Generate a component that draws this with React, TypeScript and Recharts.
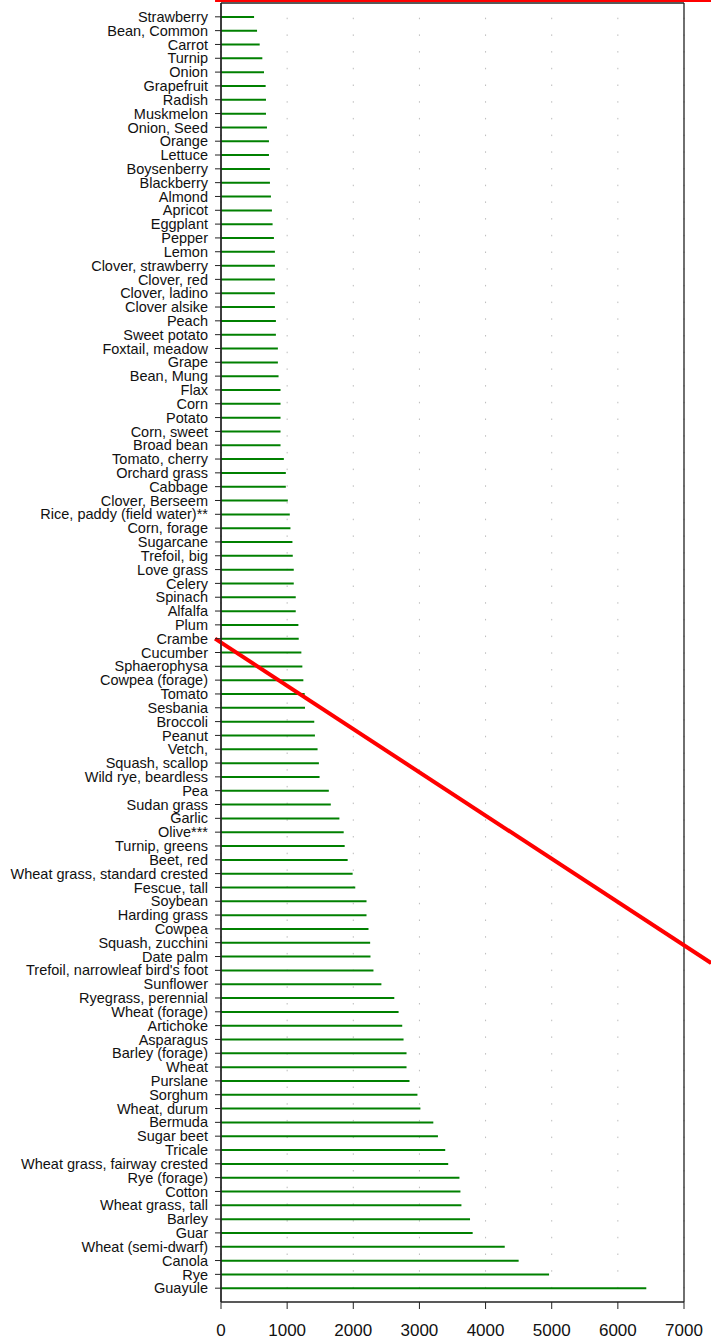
import { Bar, BarChart, CartesianGrid, ReferenceLine, XAxis, YAxis } from 'recharts';

// Salt tolerance threshold per crop, lowest first.
const CROPS = [
  'Strawberry', 'Bean, Common', 'Carrot', 'Turnip', 'Onion', 'Grapefruit', 'Radish', 'Muskmelon',
  'Onion, Seed', 'Orange', 'Lettuce', 'Boysenberry', 'Blackberry', 'Almond', 'Apricot', 'Eggplant',
  'Pepper', 'Lemon', 'Clover, strawberry', 'Clover, red', 'Clover, ladino', 'Clover alsike', 'Peach',
  'Sweet potato', 'Foxtail, meadow', 'Grape', 'Bean, Mung', 'Flax', 'Corn', 'Potato', 'Corn, sweet',
  'Broad bean', 'Tomato, cherry', 'Orchard grass', 'Cabbage', 'Clover, Berseem',
  'Rice, paddy (field water)**', 'Corn, forage', 'Sugarcane', 'Trefoil, big', 'Love grass', 'Celery',
  'Spinach', 'Alfalfa', 'Plum', 'Crambe', 'Cucumber', 'Sphaerophysa', 'Cowpea (forage)', 'Tomato',
  'Sesbania', 'Broccoli', 'Peanut', 'Vetch,', 'Squash, scallop', 'Wild rye, beardless', 'Pea',
  'Sudan grass', 'Garlic', 'Olive***', 'Turnip, greens', 'Beet, red', 'Wheat grass, standard crested',
  'Fescue, tall', 'Soybean', 'Harding grass', 'Cowpea', 'Squash, zucchini', 'Date palm',
  "Trefoil, narrowleaf bird's foot", 'Sunflower', 'Ryegrass, perennial', 'Wheat (forage)', 'Artichoke',
  'Asparagus', 'Barley (forage)', 'Wheat', 'Purslane', 'Sorghum', 'Wheat, durum', 'Bermuda',
  'Sugar beet', 'Tricale', 'Wheat grass, fairway crested', 'Rye (forage)', 'Cotton', 'Wheat grass, tall',
  'Barley', 'Guar', 'Wheat (semi-dwarf)', 'Canola', 'Rye', 'Guayule',
];

const THRESHOLDS = [
  500, 545, 585, 625, 650, 675, 680, 680, 695, 725, 725, 740, 740, 755, 770, 780,
  800, 815, 815, 815, 815, 815, 830, 830, 860, 860, 870, 900, 900, 900, 900, 900,
  950, 980, 980, 1010, 1040, 1050, 1080, 1085, 1100, 1100, 1130, 1130, 1170, 1175,
  1215, 1230, 1245, 1265, 1270, 1410, 1420, 1460, 1480, 1490, 1630, 1660, 1790, 1855,
  1870, 1915, 1990, 2030, 2200, 2200, 2230, 2255, 2260, 2305, 2425, 2620, 2685, 2740,
  2760, 2805, 2805, 2850, 2970, 3015, 3210, 3280, 3390, 3435, 3605, 3620, 3635, 3765,
  3805, 4290, 4500, 4960, 6430,
];

const X_TICKS = [0, 1000, 2000, 3000, 4000, 5000, 6000, 7000];

// hand-drawn red strokes, in (value, row) units; row 0 is the top edge, 94 the bottom edge
const TOP_STROKE = [{ x: -90, y: -0.22 }, { x: 7410, y: -0.22 }];
const DIAGONAL_STROKE = [{ x: -90, y: 46 }, { x: 7410, y: 69.47 }];

const data = CROPS.map((name, i) => ({ name, row: i + 1, value: THRESHOLDS[i] }));

const FONT = '"Liberation Sans", Arial, sans-serif';
const INK = '#222';
const GREEN = '#008000';

export default function App() {
  return (
    <div style={{ width: 711, height: 1340, fontFamily: FONT }}>
      <style>{'body{margin:0}'}</style>
      <BarChart
        layout="vertical"
        width={711}
        height={1340}
        data={data}
        margin={{ top: 3, right: 27, bottom: 0, left: 0 }}
      >
        <CartesianGrid
          horizontal={false}
          stroke="#bbb"
          strokeDasharray="1.5 15.2"
          strokeDashoffset={2}
        />
        <XAxis
          type="number"
          domain={[0, 7000]}
          ticks={X_TICKS}
          interval={0}
          allowDataOverflow
          height={38}
          stroke={INK}
          axisLine={{ stroke: INK, strokeWidth: 1.3 }}
          tickSize={7}
          tickMargin={15}
          tick={{ fontSize: 17, fill: '#111', fontFamily: FONT }}
        />
        <YAxis
          type="category"
          dataKey="name"
          width={221}
          interval={0}
          padding={{ top: 6.91, bottom: 6.91 }}
          stroke={INK}
          axisLine={{ stroke: INK, strokeWidth: 1.3 }}
          tickSize={6}
          tickMargin={7}
          tick={{ fontSize: 14.5, fill: '#111', fontFamily: FONT }}
        />
        <YAxis
          yAxisId="row"
          dataKey="row"
          type="number"
          domain={[0, 94]}
          hide
          allowDataOverflow
        />
        <Bar dataKey="value" barSize={2} fill={GREEN} isAnimationActive={false} />
        {/* box around the plot area */}
        <ReferenceLine yAxisId="row" y={0} stroke={INK} strokeWidth={1.3} />
        <ReferenceLine yAxisId="row" x={0} stroke={INK} strokeWidth={1.3} />
        <ReferenceLine yAxisId="row" x={7000} stroke={INK} strokeWidth={1.3} />
        <ReferenceLine
          yAxisId="row"
          segment={TOP_STROKE}
          stroke="#ff0000"
          strokeWidth={4}
          ifOverflow="visible"
        />
        <ReferenceLine
          yAxisId="row"
          segment={DIAGONAL_STROKE}
          stroke="#ff0000"
          strokeWidth={4}
          ifOverflow="visible"
        />
      </BarChart>
    </div>
  );
}
